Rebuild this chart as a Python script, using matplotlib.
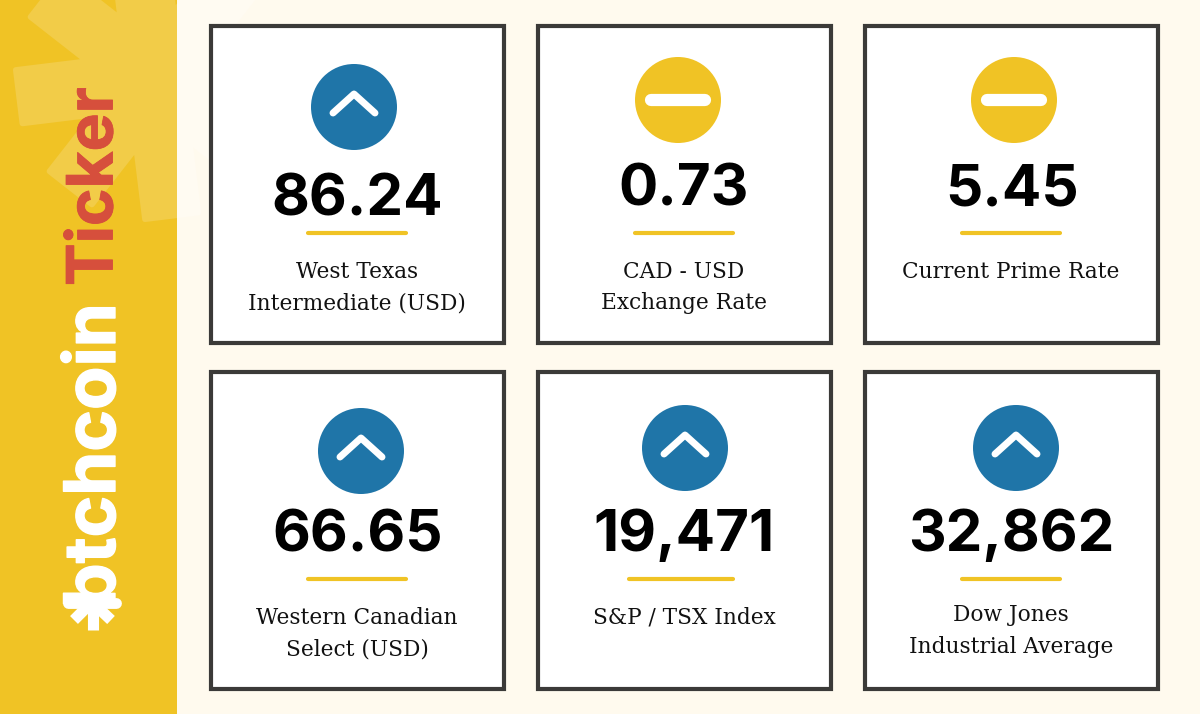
import numpy as np
import matplotlib
matplotlib.use("Agg")
import matplotlib.pyplot as plt
import matplotlib.patheffects as pe
from matplotlib.patches import Rectangle, Circle, Polygon

# --- data ---
values = ["86.24", "0.73", "5.45", "66.65", "19,471", "32,862"]
labels = ["West Texas\nIntermediate (USD)", "CAD - USD\nExchange Rate", "Current Prime Rate",
          "Western Canadian\nSelect (USD)", "S&P / TSX Index", "Dow Jones\nIndustrial Average"]
directions = ["up", "flat", "flat", "up", "up", "up"]
brand = "btchcoin"
title = "Ticker"

# --- layout ---
box_x = [209, 536, 863]
box_y = [24, 370]
BOX_W, BOX_H = 297, 321
icon_c = [(354, 107), (678, 100), (1014, 100), (361, 451), (685, 448), (1016, 448)]
num_c = [(357, 216), (684, 206), (1012, 206), (358, 551), (684, 551), (1011, 551)]
rule_x = [(308, 406), (635, 733), (962, 1060), (308, 406), (629, 733), (962, 1060)]
rule_y = [233, 233, 233, 579, 579, 579]
lab_y = [285, 285, 269, 631, 615, 628]
lab_x = [357, 684, 1011, 357, 684, 1011]

YEL, BLUE, CREAM, RED, DARK = "#F0C325", "#1F75A8", "#FFFAEE", "#D64F3C", "#3B3A38"

fig = plt.figure(figsize=(12, 7.14), dpi=100, facecolor=CREAM)
ax = fig.add_axes([0, 0, 1, 1])
ax.set_xlim(0, 1200); ax.set_ylim(714, 0); ax.axis("off")

panel = Rectangle((0, 0), 177, 714, fc=YEL, ec="none", zorder=1)
ax.add_patch(panel)

# watermark star: eight rounded arms
star_c = np.array([155.0, 80.0])
HALF, REACH = 27, 137
pts = []
for a in np.arange(8) * 45 + 7.0:
    t0, t1, t2 = np.radians([a - 22.5, a, a + 22.5])
    d = np.array([np.cos(t1), -np.sin(t1)])
    perp = np.array([-np.sin(t1), -np.cos(t1)])  # toward larger angle
    pts.append(star_c + HALF / np.sin(np.radians(22.5)) * np.array([np.cos(t0), -np.sin(t0)]))
    pts.append(star_c + d * REACH - perp * HALF)
    pts.append(star_c + d * REACH + perp * HALF)
s1 = Polygon(pts, closed=True, fc="#F2CC48", ec="#F2CC48", lw=4, joinstyle="round", zorder=1.5)
ax.add_patch(s1); s1.set_clip_path(Rectangle((0, 0), 177, 714, transform=ax.transData))
s2 = Polygon(pts, closed=True, fc="#FFFBF2", ec="#FFFBF2", lw=4, joinstyle="round", zorder=0.5)
ax.add_patch(s2)

# brand
ax.text(115, 608, brand, rotation=90, rotation_mode="anchor", ha="left", va="baseline",
        family="Inter", weight="bold", fontsize=51, color="white", zorder=3,
        path_effects=[pe.withStroke(linewidth=1.0, foreground="white")])
ax.text(112.5, 286, title, rotation=90, rotation_mode="anchor", ha="left", va="baseline",
        family="Inter", weight="bold", fontsize=46, color=RED, zorder=3,
        path_effects=[pe.withStroke(linewidth=0.6, foreground=RED)])
# logo asterisk
ax.plot([68, 116], [602.5, 602.5], color="white", lw=7.8, solid_capstyle="round", zorder=3)
ax.plot([92.5, 92.5], [602, 630], color="white", lw=8, solid_capstyle="butt", zorder=3)
ax.plot([92, 74], [602, 620], color="white", lw=8, solid_capstyle="butt", zorder=3)
ax.plot([92, 111], [602, 620], color="white", lw=8, solid_capstyle="butt", zorder=3)

# cards
i = 0
for by in box_y:
    for bx in box_x:
        ax.add_patch(Rectangle((bx + 2, by + 2), BOX_W - 4, BOX_H - 4, fc="white", ec=DARK,
                               lw=3, joinstyle="miter", zorder=2))
        cx, cy = icon_c[i]
        up = directions[i] == "up"
        ax.add_patch(Circle((cx, cy), 43, fc=BLUE if up else YEL, ec="none", zorder=3))
        if up:
            ax.plot([cx - 21, cx, cx + 21], [cy + 6, cy - 13, cy + 6], color="white", lw=5,
                    solid_capstyle="round", solid_joinstyle="round", zorder=4)
        else:
            ax.plot([cx - 27, cx + 27], [cy, cy], color="white", lw=8.8,
                    solid_capstyle="round", zorder=4)
        nx, ny = num_c[i]
        ax.text(nx, ny, values[i], ha="center", va="baseline", family="Inter",
                weight="bold", fontsize=42, color="black", zorder=4)
        ax.plot(rule_x[i], [rule_y[i]] * 2, color=YEL, lw=3, solid_capstyle="round", zorder=4)
        lines = labels[i].split("\n")
        for k, line in enumerate(lines):
            y0 = lab_y[i] - 16 * (len(lines) - 1) + 32 * k if len(lines) > 1 else lab_y[i]
            ax.text(lab_x[i], y0, line, ha="center", va="center_baseline", family="DejaVu Serif",
                    fontsize=15.6, color="#111111", zorder=4)
        i += 1

fig.savefig("out.png", dpi=100, facecolor=CREAM)
